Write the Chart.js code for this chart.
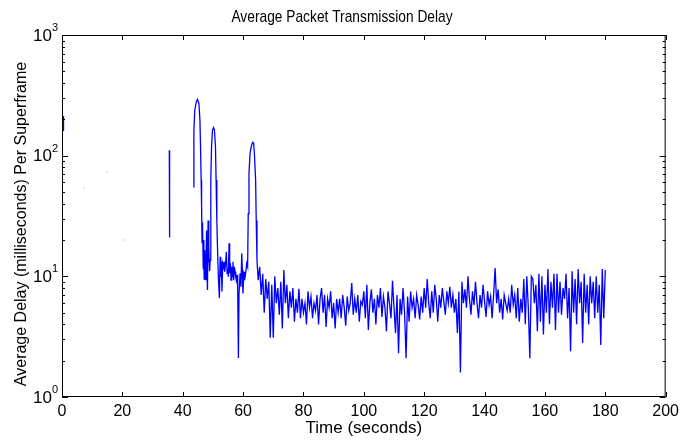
<!DOCTYPE html>
<html lang="en">
<head>
    <meta charset="UTF-8">
    <title>Average Packet Transmission Delay</title>
    <script src="https://cdn.jsdelivr.net/npm/chart.js"></script>
    <style>
        body { margin: 0; background: #fff; }
        #delayChart { display: block; }
    </style>
</head>
<body>
    <canvas id="delayChart" width="684" height="442"></canvas>

    <script>
        // short trace right at start
        const startTime = [0.4, 0.5];
        const startDelay = [213, 160];

        // faint isolated samples
        const dotTime = [7.2, 15.0, 20.8];
        const dotDelay = [54, 73, 20];

        // single spike near 35 s
        const spikeTime = [35.55, 35.65];
        const spikeDelay = [111, 21];

        // the three big bursts (43.6 s .. 65 s)
        const burstTime = [
            43.6, 43.7, 44.0, 44.5, 44.9, 45.35, 45.7, 45.9, 46.1, 46.25,
            46.4, 46.55, 46.8, 47.0, 47.1, 47.3, 47.45, 47.65, 47.9, 48.05,
            48.2, 48.4, 48.55, 48.7, 48.9, 49.1,
            49.3, 49.55, 49.85, 50.2, 50.5, 50.85, 51.05, 51.3, 51.6, 51.85, 52.15,
            52.4, 52.6, 52.8, 53.0, 53.25, 53.5, 53.7, 53.9, 54.15, 54.45,
            54.7, 54.9, 55.1, 55.35, 55.55, 55.8, 56.0, 56.25, 56.45, 56.65,
            56.9, 57.1, 57.35, 57.55, 57.75, 58.0, 58.2, 58.45, 58.65, 59.0,
            59.3, 59.55, 59.75, 59.95, 60.3, 60.5, 60.85, 61.2, 61.5,
            61.7, 61.95, 62.3, 62.7, 63.15, 63.5, 63.8, 64.15, 64.35, 64.6, 64.8, 65.0
        ];
        const burstDelay = [
            55, 163, 239, 280, 293, 271, 197, 119, 63, 38,
            19, 28, 11.6, 20, 9.5, 16.5, 12, 9.3, 24, 10,
            7.7, 29, 13, 17.5, 11, 13.6,
            63, 119, 163, 171, 163, 119, 63, 29, 14.5, 9.3, 6.6,
            14.5, 9.9, 13.2, 7.5, 12.8, 12.0, 13.2, 10.9, 12.4, 16.0,
            10.6, 11.6, 9.9, 18.8, 10.6, 12.8, 9.3, 12.0, 9.9, 13.2,
            9.3, 12.0, 10.9, 9.9, 9.3, 10.3, 8.2, 2.1, 7.2, 10.6,
            8.2, 15.5, 11.3, 7.2, 10.9, 9.3, 10.6, 12.8, 12.0,
            33, 71, 104, 119, 129, 127, 98, 63, 29, 13.6, 11.3, 9.3
        ];

        // steady part, one sample every 0.5 s from 65.5 s
        const steadyStart = 65.5;
        const steadyStep = 0.5;
        const steadyDelay = [
            12.0, 7.0, 10.5, 5.0, 9.5, 6.5, 9.0, 3.1, 8.5, 3.1,
            10.0, 6.0, 8.0, 4.8, 9.0, 3.7, 11.3, 6.0, 8.5, 4.5,
            7.5, 5.5, 8.0, 4.2, 6.5, 5.0, 7.9, 4.5, 6.5, 5.0,
            6.0, 4.0, 7.5, 5.5, 6.8, 4.5, 6.0, 5.2, 7.0, 4.0,
            6.5, 8.0, 5.0, 7.0, 3.8, 6.5, 5.5, 7.5, 4.5, 6.0,
            3.7, 6.5, 5.0,
            6.5, 4.5, 7.0, 5.5, 3.9, 6.8, 5.2, 6.0, 8.8, 4.8,
            6.5, 5.0, 7.0, 4.2, 6.2, 5.8, 7.5, 4.5, 8.5, 3.6,
            6.0, 7.8, 5.0, 6.5, 4.0, 7.0, 5.5, 8.0, 4.6, 6.8,
            5.5, 3.5, 7.5, 6.0, 4.5, 9.2, 5.5, 3.4, 7.0, 2.3,
            6.5, 4.8, 8.0, 5.0, 2.1, 6.8, 4.2, 7.5, 5.5, 6.5,
            4.5, 7.0, 5.8, 4.4, 6.8, 5.0,
            8.0, 5.5, 9.5, 6.0, 4.5, 7.5, 5.0, 8.5, 6.5, 4.2,
            7.0, 5.5, 8.0, 6.2, 4.8, 7.5, 6.0, 8.2, 5.5, 7.0,
            5.0, 6.5, 3.4, 7.5, 1.6, 9.0, 6.0, 7.8, 5.5, 10.0,
            6.5, 4.8, 7.5, 5.8, 9.0, 6.0, 4.5, 7.0, 5.5, 8.5,
            6.2, 4.6, 7.5, 5.8, 6.8, 4.5, 7.0, 11.7, 6.0, 7.8,
            5.0, 6.5, 4.4, 7.0, 6.0, 5.2,
            6.5, 5.0, 8.5, 5.8, 7.0, 4.5, 8.0, 4.2, 6.5, 5.0,
            9.5, 4.0, 10.0, 5.5, 2.1, 10.0, 9.5, 6.0, 8.5, 3.5,
            10.5, 4.2, 10.0, 3.3, 8.5, 5.0, 11.5, 4.0, 9.0, 5.5,
            10.5, 3.6, 10.5, 5.0, 9.0, 4.8, 8.0, 6.5, 10.5, 4.5,
            8.0, 2.4, 11.0, 5.0, 9.5, 4.0, 11.5, 6.0, 9.0, 2.8,
            10.5, 5.0, 8.5, 4.0, 10.0, 6.0,
            9.0, 4.5, 10.0, 5.0, 8.5, 2.7, 11.5, 4.5, 11.3
        ];

        const xTicks = [0, 20, 40, 60, 80, 100, 120, 140, 160, 180, 200];
        const yDecades = [0, 1, 2, 3];

        const fontFamily = '"Liberation Sans", Arial, Helvetica, sans-serif';

        function toPoints(times, delays) {
            return times.map((t, i) => ({ x: t, y: delays[i] }));
        }

        const gap = t => ({ x: t, y: null });

        const tracePoints = [
            ...toPoints(startTime, startDelay),
            gap(10),
            ...toPoints(spikeTime, spikeDelay),
            gap(40),
            ...toPoints(burstTime, burstDelay),
            ...steadyDelay.map((v, i) => ({ x: steadyStart + i * steadyStep, y: v }))
        ];

        // box, inside ticks, 10^n labels and titles like the original figure
        const matlabAxes = {
            id: 'matlabAxes',
            afterDraw(chart) {
                const { ctx, chartArea: a, scales } = chart;
                const x = scales.x, y = scales.y;
                ctx.save();
                ctx.strokeStyle = '#000';
                ctx.lineWidth = 1;
                ctx.strokeRect(a.left + 0.5, a.top + 0.5, a.right - a.left - 1, a.bottom - a.top - 1);

                ctx.beginPath();
                xTicks.forEach(v => {
                    const px = Math.round(x.getPixelForValue(v)) + 0.5;
                    ctx.moveTo(px, a.bottom);
                    ctx.lineTo(px, a.bottom - 5);
                    ctx.moveTo(px, a.top);
                    ctx.lineTo(px, a.top + 5);
                });
                yDecades.forEach(e => {
                    for (let m = 1; m <= 9; m++) {
                        const v = m * Math.pow(10, e);
                        if (v > 1000) break;
                        const py = Math.round(y.getPixelForValue(v)) + 0.5;
                        const len = m === 1 ? 6 : 3;
                        ctx.moveTo(a.left, py);
                        ctx.lineTo(a.left + len, py);
                        ctx.moveTo(a.right, py);
                        ctx.lineTo(a.right - len, py);
                    }
                });
                ctx.stroke();

                ctx.fillStyle = '#000';
                yDecades.forEach(e => {
                    const py = y.getPixelForValue(Math.pow(10, e));
                    ctx.font = '17px ' + fontFamily;
                    ctx.textAlign = 'right';
                    ctx.textBaseline = 'middle';
                    ctx.fillText('10', 52, py + 1);
                    ctx.font = '11px ' + fontFamily;
                    ctx.textAlign = 'left';
                    ctx.textBaseline = 'alphabetic';
                    ctx.fillText(String(e), 52, py - 4);
                });

                // title: the original uses a condensed face, so squeeze it a bit
                ctx.save();
                ctx.translate(chart.width / 2, 17);
                ctx.scale(0.81, 1);
                ctx.font = '17px ' + fontFamily;
                ctx.textAlign = 'center';
                ctx.textBaseline = 'middle';
                ctx.fillText('Average Packet Transmission Delay', 0, 0);
                ctx.restore();

                // y title, sits a little below the axes centre in the original
                ctx.translate(22, (a.top + a.bottom) / 2 + 8);
                ctx.rotate(-Math.PI / 2);
                ctx.font = '16px ' + fontFamily;
                ctx.textAlign = 'center';
                ctx.textBaseline = 'middle';
                ctx.fillText('Average Delay (milliseconds) Per Superframe', 0, 0);
                ctx.restore();
            }
        };

        new Chart(document.getElementById('delayChart').getContext('2d'), {
            type: 'line',
            data: {
                datasets: [{
                    data: tracePoints,
                    borderColor: '#0000ff',
                    borderWidth: 1.3,
                    pointRadius: 0,
                    tension: 0,
                    spanGaps: false
                }, {
                    type: 'scatter',
                    data: toPoints(dotTime, dotDelay),
                    showLine: false,
                    pointRadius: 0.8,
                    borderWidth: 0,
                    backgroundColor: 'rgba(110, 110, 255, 0.45)'
                }]
            },
            options: {
                responsive: false,
                animation: false,
                layout: { padding: { left: 0, right: 15, top: 35, bottom: 0 } },
                plugins: {
                    legend: { display: false },
                    tooltip: { enabled: false },
                    title: { display: false }
                },
                scales: {
                    x: {
                        type: 'linear',
                        min: 0,
                        max: 200,
                        afterFit: scale => { scale.height = 45; },
                        afterBuildTicks: scale => {
                            scale.ticks = xTicks.map(v => ({ value: v }));
                        },
                        grid: { display: false, drawTicks: false },
                        border: { display: false },
                        ticks: {
                            color: '#000',
                            padding: 5,
                            maxRotation: 0,
                            autoSkip: false,
                            font: { family: fontFamily, size: 16 }
                        },
                        title: {
                            display: true,
                            text: 'Time (seconds)',
                            color: '#000',
                            font: { family: fontFamily, size: 17 },
                            padding: { top: 0, bottom: 3 }
                        }
                    },
                    y: {
                        type: 'logarithmic',
                        min: 1,
                        max: 1000,
                        afterFit: scale => { scale.width = 62; },
                        grid: { display: false, drawTicks: false },
                        border: { display: false },
                        ticks: { display: false },
                        title: { display: false }
                    }
                }
            },
            plugins: [matlabAxes]
        });
    </script>
</body>
</html>
